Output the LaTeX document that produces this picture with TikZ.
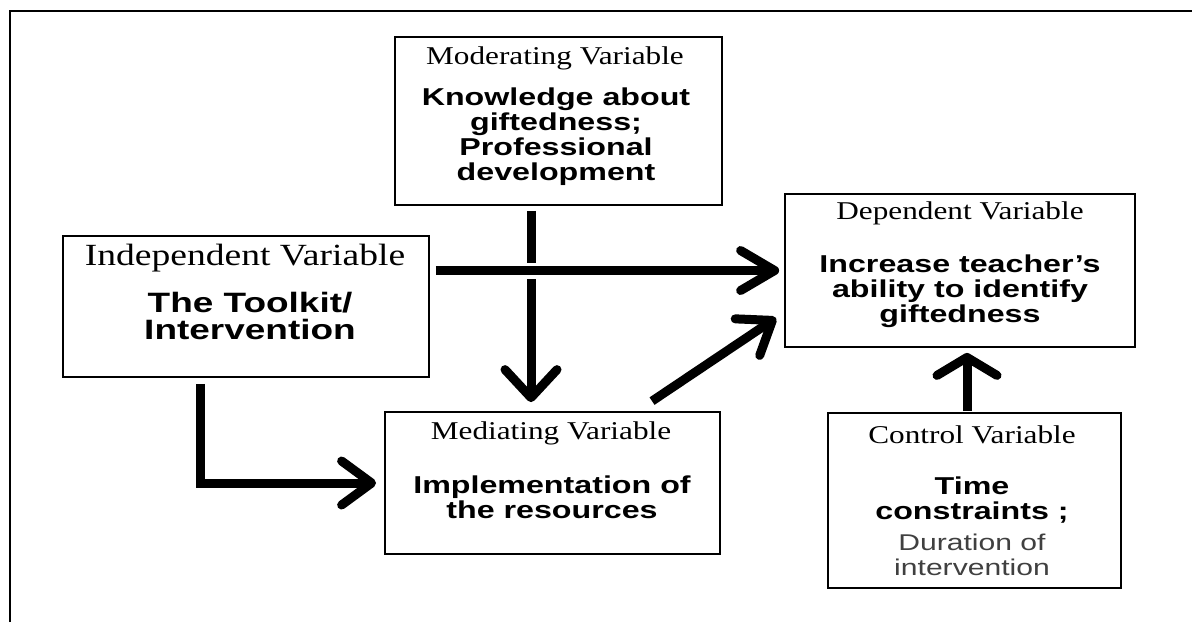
\documentclass[tikz,border=0pt]{standalone}
\usepackage{fontspec}
\usetikzlibrary{arrows.meta,positioning}
\newfontfamily\ttlfont[FakeStretch=1.22]{Liberation Serif}
\newfontfamily\bdyfont[FakeStretch=1.32]{Liberation Sans}

\tikzset{
  varbox/.style 2 args={draw,line width=0.9pt,minimum width=#1,minimum height=#2,inner sep=0pt},
  ttl/.style={inner sep=0pt,font=\ttlfont\fontsize{12.8}{14}\selectfont},
  bdy/.style={inner sep=0pt,align=center,font=\bdyfont\bfseries\fontsize{12.2}{12.5}\selectfont},
  flow/.style 2 args={line width=4.5pt,-{Straight Barb[round,length=#1,width=#2]}}
}

\begin{document}
\begin{tikzpicture}[x=0.5pt,y=-0.5pt]
\useasboundingbox (0,0) rectangle (1192,622);
\draw [line width=1pt] (9.5,622) -- (9.5,10.5) -- (1192,10.5);

% boxes
\node [varbox={163.5pt}{84pt}] (mod) at (558.5,121) {};
\node [varbox={183pt}{70.5pt}] (ind) at (246,306.5) {};
\node [varbox={167.5pt}{71pt}] (med) at (552.5,483) {};
\node [varbox={175pt}{76.5pt}] (dep) at (960,270.5) {};
\node [varbox={146.5pt}{87.5pt}] (ctl) at (974.5,500.5) {};

% titles
\node [ttl] (modT) at (555,58) {Moderating Variable};
\node [ttl,font=\ttlfont\fontsize{15.4}{16}\selectfont] (indT) at (245,258) {Independent Variable};
\node [ttl] (medT) at (551,433) {Mediating Variable};
\node [ttl] (depT) at (960,213) {Dependent Variable};
\node [ttl] (ctlT) at (972,435) {Control Variable};

% contents
\node [bdy] (modB) at (556,137) {Knowledge about\\giftedness;\\Professional\\development};
\node [bdy,font=\bdyfont\bfseries\fontsize{14}{13.5}\selectfont] (indB) at (250,316) {The Toolkit/\\Intervention};
\node [bdy] (medB) at (552,497) {Implementation of\\the resources};
\node [bdy] (depB) at (960,291) {Increase teacher’s\\ability to identify\\giftedness};
\node [bdy] (ctlB) at (972,526) {Time\\constraints ;\\[3pt]
  {\mdseries\color{black!75}\fontsize{11.4}{12.5}\selectfont Duration of}\\
  {\mdseries\color{black!75}\fontsize{11.4}{12.5}\selectfont intervention}};

% arrows
\draw [flow={14pt}{26pt}] ([shift={(-27.5,5)}]mod.south) -- ([shift={(-21.5,-9)}]med.north);
\draw [flow={17pt}{20pt},preaction={draw=white,line width=8pt,-}] ([shift={(6,-36)}]ind.east) -- ([shift={(-5,0)}]dep.west);
\draw [flow={15pt}{22pt},line join=miter] ([shift={(-46,6)}]ind.south) |- ([shift={(-8,0)}]med.west);
\draw [flow={15pt}{22pt}] ([shift={(99.5,-10)}]med.north) -- ([shift={(-8,-30)}]dep.south west);
\draw [flow={9pt}{30pt}] ([shift={(-7.5,-1)}]ctl.north) -- ([shift={(7,5)}]dep.south);
\end{tikzpicture}
\end{document}
